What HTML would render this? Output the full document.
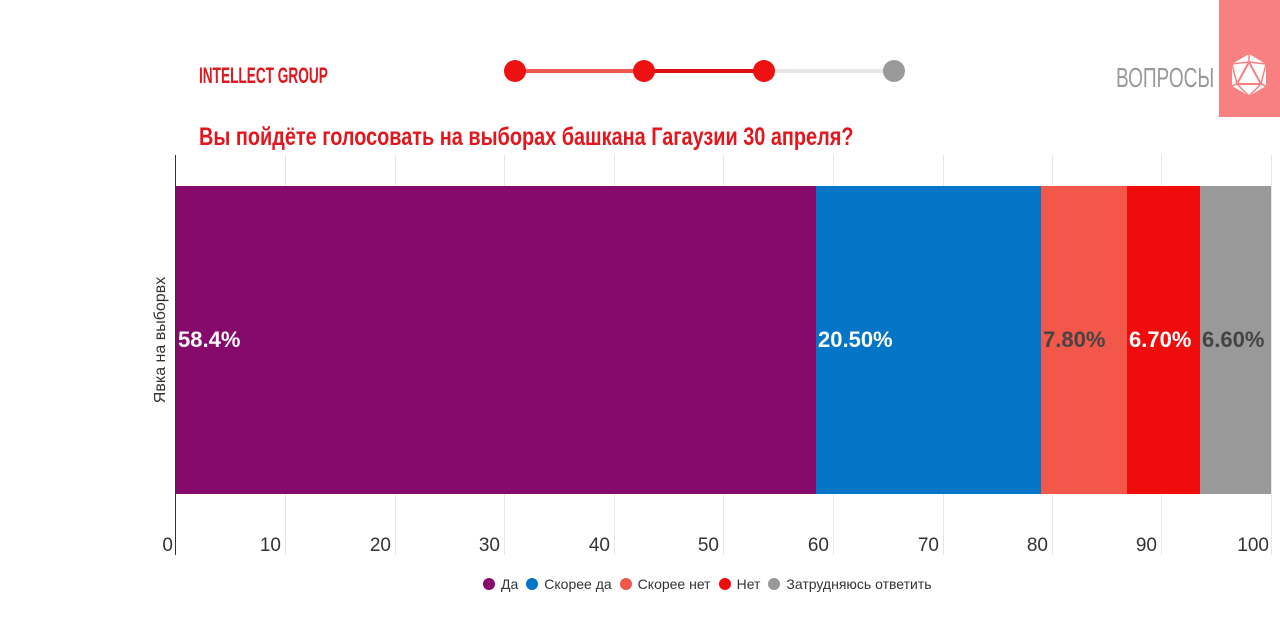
<!DOCTYPE html>
<html><head><meta charset="utf-8"><style>
body{margin:0;width:1280px;height:643px;background:#fff;position:relative;overflow:hidden;font-family:"Liberation Sans",sans-serif}
.a{position:absolute}
.cond{font-family:"Liberation Sans Narrow","Liberation Sans",sans-serif;transform-origin:left center;white-space:nowrap}
.grid{position:absolute;top:155px;width:1px;height:400px;background:#e6e6e6}
.tick{position:absolute;top:535px;font-size:19px;color:#333;text-align:right;width:40px}
.seg{position:absolute;top:186px;height:308px}
.lbl{position:absolute;top:327px;font-size:22px;font-weight:bold;white-space:nowrap}
.leg{display:inline-flex;align-items:center;margin-right:8px}
.dot{width:12px;height:12px;border-radius:50%;margin-right:6px;display:inline-block}
</style></head><body>
<div class="a cond" style="left:199px;top:63px;font-size:22px;font-weight:bold;color:#e2171d;transform:scaleX(0.62)">INTELLECT GROUP</div>
<div class="a" style="left:515px;top:69px;width:129px;height:4px;background:#ec5a4f"></div>
<div class="a" style="left:644px;top:69px;width:120px;height:4px;background:#e01010"></div>
<div class="a" style="left:764px;top:69px;width:130px;height:4px;background:#e6e6e6"></div>
<div class="a" style="left:504px;top:60px;width:22px;height:22px;border-radius:50%;background:#ee1111"></div>
<div class="a" style="left:633px;top:60px;width:22px;height:22px;border-radius:50%;background:#ee1111"></div>
<div class="a" style="left:753px;top:60px;width:22px;height:22px;border-radius:50%;background:#ee1111"></div>
<div class="a" style="left:883px;top:60px;width:22px;height:22px;border-radius:50%;background:#999"></div>
<div class="a cond" style="left:1116px;top:62px;font-size:28px;color:#999;transform:scaleX(0.68)">ВОПРОСЫ</div>
<div class="a" style="left:1219px;top:0;width:61px;height:117px;background:#f88080"></div>
<svg class="a" style="left:1228px;top:52px" width="42" height="46" viewBox="0 0 42 46"><polygon points="21,2 38,12 38,34 21,44 4,34 4,12" fill="#fff"/><polygon points="21,10 33,32 9,32" fill="none" stroke="#f88080" stroke-width="2"/><path d="M21,2 21,10 M4,12 21,10 38,12 M4,34 9,32 M38,34 33,32 M21,44 9,32 M21,44 33,32 M4,12 9,32 M38,12 33,32" stroke="#f88080" stroke-width="1.5" fill="none"/></svg>
<div class="a cond" style="left:199px;top:123px;font-size:25px;font-weight:bold;color:#e2171d;transform:scaleX(0.795)">Вы пойдёте голосовать на выборах башкана Гагаузии 30 апреля?</div>
<div class="grid" style="left:285px"></div><div class="grid" style="left:395px"></div><div class="grid" style="left:504px"></div><div class="grid" style="left:614px"></div><div class="grid" style="left:723px"></div><div class="grid" style="left:833px"></div><div class="grid" style="left:943px"></div><div class="grid" style="left:1052px"></div><div class="grid" style="left:1161px"></div><div class="grid" style="left:1271px"></div>
<div class="a" style="left:175px;top:155px;width:1px;height:400px;background:#333"></div>
<div class="seg" style="left:176px;width:640px;background:#850a6c"></div>
<div class="seg" style="left:816px;width:225px;background:#0275c6"></div>
<div class="seg" style="left:1041px;width:86px;background:#f2574a"></div>
<div class="seg" style="left:1127px;width:73px;background:#ee0c0c"></div>
<div class="seg" style="left:1200px;width:71px;background:#999"></div>
<div class="lbl" style="left:178px;color:#fff">58.4%</div>
<div class="lbl" style="left:818px;color:#fff">20.50%</div>
<div class="lbl" style="left:1043px;color:#444">7.80%</div>
<div class="lbl" style="left:1129px;color:#fff">6.70%</div>
<div class="lbl" style="left:1202px;color:#444">6.60%</div>
<div class="a" style="left:161px;top:340px;transform:translate(-50%,-50%) rotate(-90deg);font-size:16px;color:#333;white-space:nowrap">Явка на выборвх</div>
<div class="tick" style="left:133px">0</div>
<div class="tick" style="left:241px">10</div><div class="tick" style="left:351px">20</div><div class="tick" style="left:460px">30</div><div class="tick" style="left:570px">40</div><div class="tick" style="left:679px">50</div><div class="tick" style="left:789px">60</div><div class="tick" style="left:899px">70</div><div class="tick" style="left:1008px">80</div><div class="tick" style="left:1117px">90</div><div class="tick" style="left:1229px;width:40px">100</div>
<div class="a" style="left:483px;top:576px;font-size:14px;color:#333;white-space:nowrap">
<span class="leg"><span class="dot" style="background:#850a6c"></span>Да</span><span class="leg"><span class="dot" style="background:#0275c6"></span>Скорее да</span><span class="leg"><span class="dot" style="background:#f2574a"></span>Скорее нет</span><span class="leg"><span class="dot" style="background:#ee0c0c"></span>Нет</span><span class="leg"><span class="dot" style="background:#999"></span>Затрудняюсь ответить</span>
</div>
</body></html>
